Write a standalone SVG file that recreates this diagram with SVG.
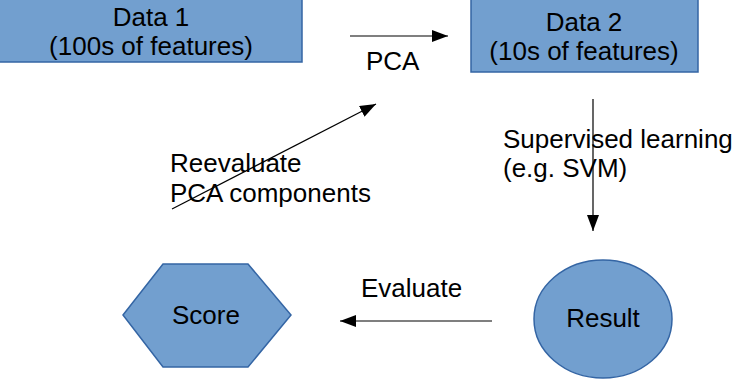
<svg xmlns="http://www.w3.org/2000/svg" width="734" height="379" viewBox="0 0 734 379">
  <style>
    .shape { fill: #729fcf; stroke: #3465a4; stroke-width: 1.5; }
    .label { font-family: "Liberation Sans", Arial, sans-serif; font-size: 26px; fill: #000; }
    .mid { text-anchor: middle; }
    .edge { stroke: #000; stroke-width: 1.2; fill: none; marker-end: url(#arrow); }
  </style>
  <defs>
    <marker id="arrow" viewBox="0 0 16 12" refX="16" refY="6" markerWidth="16" markerHeight="12" markerUnits="userSpaceOnUse" orient="auto">
      <path d="M0,0 L16,6 L0,12 Z" fill="#000"/>
    </marker>
  </defs>

  <g id="data1">
    <rect class="shape" x="-1" y="-1" width="303" height="63"/>
    <text class="label mid" x="151" y="26">Data 1</text>
    <text class="label mid" x="151" y="55">(100s of features)</text>
  </g>

  <g id="data2">
    <rect class="shape" x="471" y="-1" width="227" height="73"/>
    <text class="label mid" x="584" y="31">Data 2</text>
    <text class="label mid" x="584" y="60">(10s of features)</text>
  </g>

  <g id="result">
    <ellipse class="shape" cx="603" cy="319" rx="69" ry="59"/>
    <text class="label mid" x="603" y="327">Result</text>
  </g>

  <g id="score">
    <polygon class="shape" points="123,315 163,264 248,264 291,315 248,367 163,367"/>
    <text class="label mid" x="206" y="324">Score</text>
  </g>

  <g id="connectors">
    <line class="edge" x1="350" y1="36" x2="448" y2="36"/>
    <text class="label" x="366" y="70">PCA</text>

    <line class="edge" x1="593" y1="99" x2="593" y2="231"/>
    <text class="label" x="503" y="148">Supervised learning</text>
    <text class="label" x="503" y="177">(e.g. SVM)</text>

    <line class="edge" x1="492" y1="321" x2="340" y2="321"/>
    <text class="label" x="361" y="297">Evaluate</text>

    <line class="edge" x1="172" y1="209" x2="376" y2="104"/>
    <text class="label" x="170" y="172">Reevaluate</text>
    <text class="label" x="170" y="202">PCA components</text>
  </g>
</svg>
